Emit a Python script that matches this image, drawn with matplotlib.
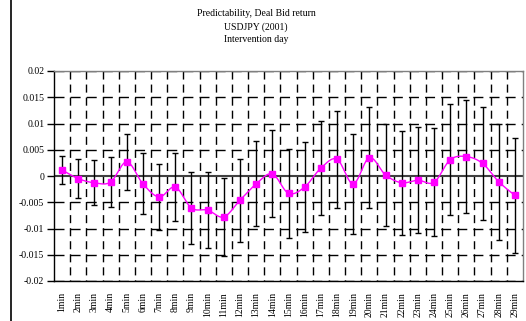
import numpy as np
import matplotlib
matplotlib.use("Agg")
from matplotlib import pyplot as plt
from matplotlib.lines import Line2D

labels = ["%dmin" % i for i in range(1, 30)]
mean_ret = [0.00115, -0.0005, -0.0013, -0.00115, 0.0027, -0.0015, -0.004, -0.0021,
            -0.0061, -0.0065, -0.0078, -0.0046, -0.0015, 0.0004, -0.0033, -0.0021,
            0.0015, 0.0032, -0.0015, 0.0035, 0.0002, -0.0013, -0.0008, -0.0012,
            0.0031, 0.0037, 0.0024, -0.0011, -0.0037]
half_width = [0.0027, 0.0037, 0.0043, 0.0048, 0.0053, 0.0058, 0.0062, 0.0065,
              0.0068, 0.0072, 0.0075, 0.0079, 0.0081, 0.0083, 0.0085, 0.0086,
              0.0089, 0.0092, 0.0095, 0.0096, 0.0097, 0.0099, 0.0101, 0.0103,
              0.0106, 0.0107, 0.0108, 0.011, 0.0109]
yticks = [0.02, 0.015, 0.01, 0.005, 0, -0.005, -0.01, -0.015, -0.02]
ytick_labels = ["0.02", "0.015", "0.01", "0.005", "0", "-0.005", "-0.01", "-0.015", "-0.02"]

plt.rcParams['font.family'] = ['Liberation Serif', 'DejaVu Serif']


def smooth(xs, ys, n=20):
    # excel style smoothed line (catmull-rom bezier)
    xs = np.asarray(xs, float)
    ys = np.asarray(ys, float)
    px = np.concatenate([[xs[0]], xs, [xs[-1]]])
    py = np.concatenate([[ys[0]], ys, [ys[-1]]])
    out_x, out_y = [], []
    t = np.linspace(0, 1, n, endpoint=False)
    for i in range(1, len(px) - 2):
        p0 = np.array([px[i], py[i]])
        p3 = np.array([px[i + 1], py[i + 1]])
        c1 = p0 + (p3 - np.array([px[i - 1], py[i - 1]])) / 6.0
        c2 = p3 - (np.array([px[i + 2], py[i + 2]]) - p0) / 6.0
        b = ((1 - t) ** 3)[:, None] * p0 + (3 * (1 - t) ** 2 * t)[:, None] * c1 \
            + (3 * (1 - t) * t ** 2)[:, None] * c2 + (t ** 3)[:, None] * p3
        out_x.extend(b[:, 0])
        out_y.extend(b[:, 1])
    out_x.append(xs[-1])
    out_y.append(ys[-1])
    return out_x, out_y


fig = plt.figure(figsize=(5.26, 3.21), dpi=100)
ax = fig.add_axes([54 / 526, 1 - 281 / 321, (523 - 54) / 526, (281 - 71) / 321])

x = np.arange(1, len(labels) + 1)
ax.set_xlim(0.5, len(labels) + 0.5)
ax.set_ylim(-0.02, 0.02)

# dashed grid
for yv in yticks:
    if yv == 0:
        continue
    ax.axhline(yv, color="black", lw=1, dashes=(7.2, 4.4), zorder=1)
for xv in np.arange(1.5, len(labels), 1.0):
    # draw top-down so the dashes start at the top border
    ax.axvline(xv, ymin=1, ymax=0, color="black", lw=1, dashes=(5.8, 3.6), zorder=1)
ax.axhline(0, color="#404040", lw=1.5, zorder=2)

ax.errorbar(x, mean_ret, yerr=half_width, fmt="none", ecolor="black",
            elinewidth=1, capsize=2.2, capthick=1, zorder=3)
sx, sy = smooth(x, mean_ret)
ax.plot(sx, sy, color="#FF00FF", lw=1, zorder=4)
ax.plot(x, mean_ret, ls="none", marker="s", ms=4.5, color="#FF00FF", zorder=5)

ax.set_yticks(yticks)
ax.set_yticklabels(ytick_labels, fontsize=7)
ax.set_xticks(x)
ax.set_xticklabels(labels, rotation=90, fontsize=7)
ax.tick_params(axis="x", length=0, pad=8)
ax.tick_params(axis="y", length=5, width=1, direction="out", pad=2)

for s in ["left", "bottom"]:
    ax.spines[s].set_color("black")
for s in ["top", "right"]:
    ax.spines[s].set_color("#808080")
for s in ax.spines.values():
    s.set_linewidth(1)

fig.text(256 / 526, 1 - 14 / 321, "Predictability, Deal Bid return", ha="center", va="center", fontsize=7)
fig.text(256 / 526, 1 - 27 / 321, "USDJPY (2001)", ha="center", va="center", fontsize=7)
fig.text(256 / 526, 1 - 40 / 321, "Intervention day", ha="center", va="center", fontsize=7)

fig.add_artist(Line2D([11 / 526, 11 / 526], [0, 1], color="black", lw=1.2))

fig.savefig("out.png", dpi=100)
